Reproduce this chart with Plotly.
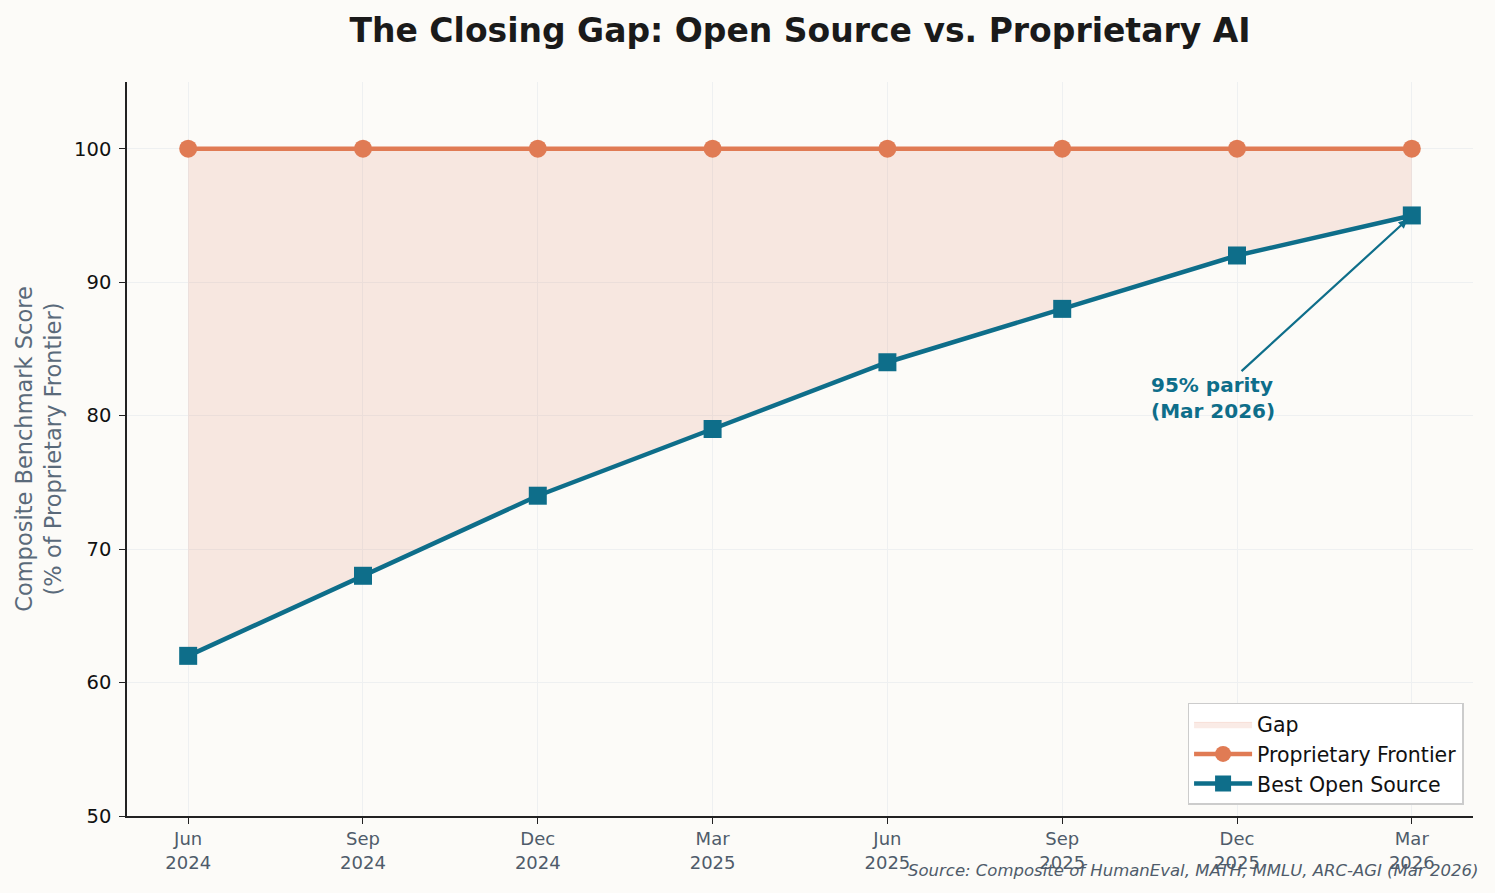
import plotly.graph_objects as go

# data
quarters = ["Jun<br>2024", "Sep<br>2024", "Dec<br>2024", "Mar<br>2025",
            "Jun<br>2025", "Sep<br>2025", "Dec<br>2025", "Mar<br>2026"]
proprietary = [100, 100, 100, 100, 100, 100, 100, 100]
open_source = [62, 68, 74, 79, 84, 88, 92, 95]

ORANGE = "#E07B54"
TEAL = "#0E6E8A"
BG = "#FCFBF8"
FONT = "DejaVu Sans"

xs = list(range(len(quarters)))

fig = go.Figure()

# base for the fill (hidden)
fig.add_trace(go.Scatter(x=xs, y=open_source, mode="lines", line=dict(width=0),
                         showlegend=False, hoverinfo="skip"))
fig.add_trace(go.Scatter(x=xs, y=proprietary, mode="lines", line=dict(width=0.8, color="rgba(224,123,84,0.18)"),
                         fill="tonexty", fillcolor="rgba(224,123,84,0.15)", name="Gap"))
fig.add_trace(go.Scatter(x=xs, y=proprietary, mode="lines+markers", name="Proprietary Frontier",
                         line=dict(color=ORANGE, width=4.5),
                         marker=dict(symbol="circle", size=18, color=ORANGE)))
fig.add_trace(go.Scatter(x=xs, y=open_source, mode="lines+markers", name="Best Open Source",
                         line=dict(color=TEAL, width=4.5),
                         marker=dict(symbol="square", size=18, color=TEAL)))

fig.add_annotation(x=xs[-1], y=open_source[-1], ax=5.86, ay=81.35, axref="x", ayref="y",
                   text="<b>95% parity<br>(Mar 2026)</b>", showarrow=True,
                   arrowhead=2, arrowsize=0.8, arrowwidth=2.2, arrowcolor=TEAL, standoff=6,
                   font=dict(family=FONT, size=20, color=TEAL), align="left")

fig.add_annotation(x=1.005, y=-0.074, xref="paper", yref="paper", xanchor="right", yanchor="middle",
                   text="<i>Source: Composite of HumanEval, MATH, MMLU, ARC-AGI (Mar 2026)</i>",
                   showarrow=False, font=dict(family=FONT, size=16.5, color="#4F5B6A"))

fig.update_layout(
    width=1495, height=893,
    paper_bgcolor=BG, plot_bgcolor=BG,
    font=dict(family=FONT, size=18, color="#111"),
    title=dict(text="<b>The Closing Gap: Open Source vs. Proprietary AI</b>", x=0.5, xref="paper",
               y=0.966, yanchor="middle", font=dict(family=FONT, size=33, color="#1A1A1A")),
    margin=dict(l=127, r=22, t=82, b=77),
    legend=dict(x=0.993, y=0.015, xanchor="right", yanchor="bottom", bgcolor="white",
                bordercolor="#CCCCCC", borderwidth=1.5, font=dict(family=FONT, size=20.5, color="#111"),
                traceorder="normal", itemwidth=58),
)

fig.update_xaxes(range=[-0.35, 7.35], tickvals=xs, ticktext=quarters,
                 showgrid=True, gridcolor="#EEF0F1", gridwidth=1,
                 showline=True, linecolor="#222", linewidth=1.5,
                 ticks="outside", ticklen=6, tickcolor="#222", zeroline=False,
                 tickfont=dict(family=FONT, size=18, color="#4F5B6A"))
fig.update_yaxes(range=[50, 105], tickvals=[50, 60, 70, 80, 90, 100],
                 showgrid=True, gridcolor="#EEF0F1", gridwidth=1,
                 showline=True, linecolor="#222", linewidth=1.5,
                 ticks="outside", ticklen=6, tickcolor="#222", zeroline=False,
                 ticklabelstandoff=4,
                 tickfont=dict(family=FONT, size=19.5, color="#111"),
                 title=dict(text="Composite Benchmark Score<br>(% of Proprietary Frontier)", standoff=6,
                            font=dict(family=FONT, size=22.5, color="#5A6A7A")))

fig.write_html("out.html", config={"displayModeBar": False},
               post_script="document.body.style.margin='0';document.body.style.background='%s';" % BG)
